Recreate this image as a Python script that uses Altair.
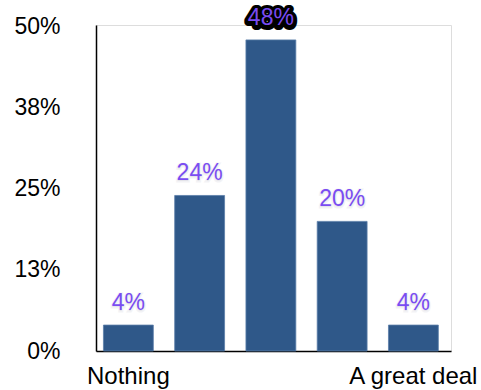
import altair as alt
import pandas as pd

# Response categories (only the two ends carry a visible label)
categories = ["Nothing", "2", "3", "4", "A great deal"]
shares = [4, 24, 48, 20, 4]
y_ticks = [0, 12.5, 25, 37.5, 50]

df = pd.DataFrame({"category": categories, "share": shares})

FONT = "Liberation Sans"
BAR = "#2F5889"
LABEL = "#7A4CF2"

x_enc = alt.X(
    "category:N",
    sort=categories,
    scale=alt.Scale(paddingInner=0.3, paddingOuter=0.141, align=0.37),
    axis=alt.Axis(
        title=None,
        ticks=False,
        domainColor="black",
        domainWidth=1.5,
        labelAngle=0,
        labelFont=FONT,
        labelFontSize=24,
        labelColor="black",
        labelPadding=13,
        labelExpr="datum.value == 'Nothing' || datum.value == 'A great deal' ? datum.value : ''",
    ),
)
y_enc = alt.Y(
    "share:Q",
    scale=alt.Scale(domain=[0, 50.3], nice=False),
    axis=alt.Axis(
        title=None,
        values=y_ticks,
        grid=False,
        ticks=False,
        domainColor="black",
        domainWidth=1.5,
        labelFont=FONT,
        labelFontSize=23,
        labelColor="black",
        labelPadding=36,
        labelExpr="round(datum.value) + '%'",
    ),
)

base = alt.Chart(df).encode(x=x_enc, y=y_enc).transform_calculate(
    label="datum.share + '%'"
)

bars = base.mark_bar(color=BAR, stroke="#5B7DA8", strokeWidth=0.8)

# soft halo under each value label
halo = base.mark_text(
    font=FONT, fontSize=23, dy=-9, baseline="bottom",
    color="#cfcfd8", stroke="#d8d8e0", strokeWidth=3, strokeOpacity=0.5, opacity=0.6,
).encode(text=alt.Text("label:N"))

# dark backing behind the tallest bar's label
backing = (
    base.mark_text(
        font=FONT, fontSize=23, dy=-9, baseline="bottom",
        color="black", stroke="black", strokeWidth=8, strokeJoin="round",
    )
    .encode(text=alt.Text("label:N"))
    .transform_joinaggregate(top="max(share)")
    .transform_filter("datum.share == datum.top")
)

labels = base.mark_text(
    font=FONT, fontSize=23, dy=-10, baseline="bottom", color=LABEL,
).encode(text=alt.Text("label:N"))

chart = (
    alt.layer(bars, halo, backing, labels)
    .properties(
        width=355,
        height=326,
        autosize=alt.AutoSizeParams(type="none"),
        padding={"left": 96, "top": 25, "right": 30, "bottom": 39},
    )
    .configure_view(strokeWidth=0, stroke="transparent")
    .configure(background="white")
)

chart.save("out.html", embed_options={"renderer": "svg", "actions": False})
